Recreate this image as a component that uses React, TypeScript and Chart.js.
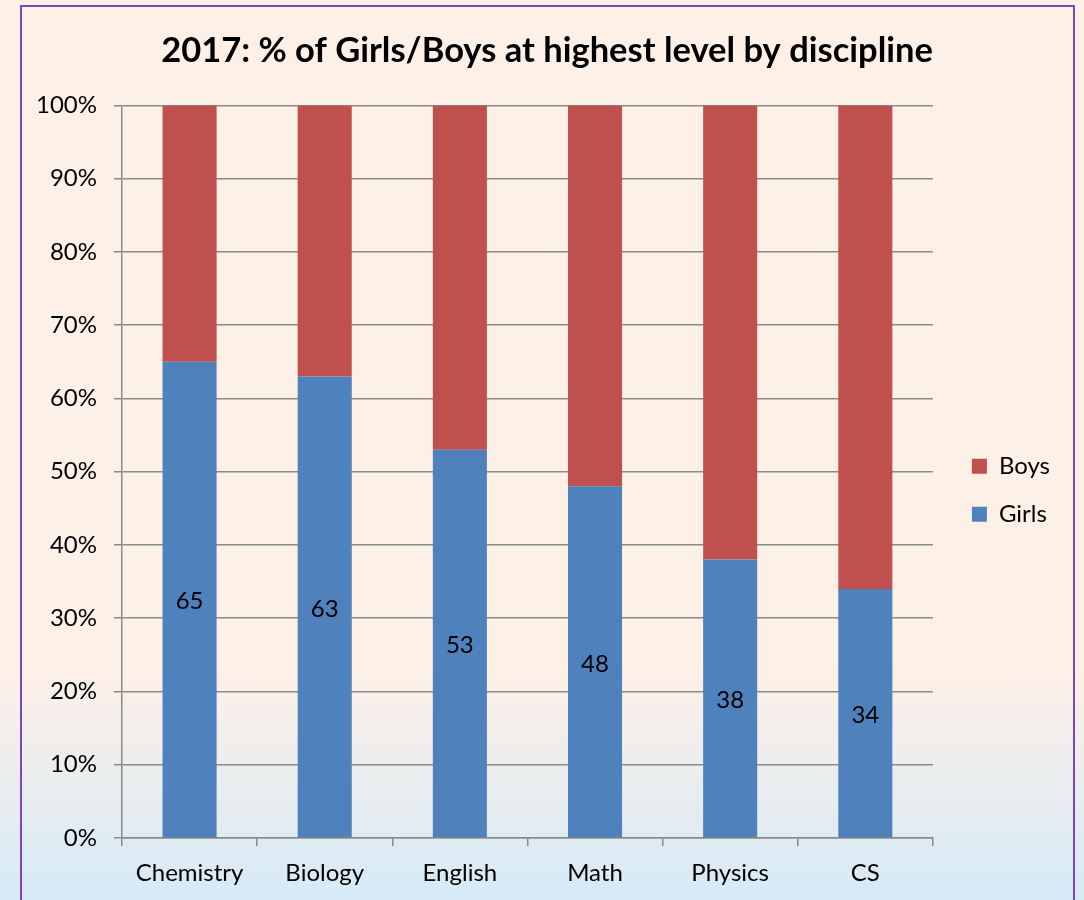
import React, { useEffect, useRef } from "react";
import { Chart, registerables } from "chart.js";

Chart.register(...registerables);

const titleText = "2017: % of Girls/Boys at highest level by discipline";
const categories = ["Chemistry", "Biology", "English", "Math", "Physics", "CS"];
const girls = [65, 63, 53, 48, 38, 34];
const boys = [35, 37, 47, 52, 62, 66];
const seriesNames = ["Girls", "Boys"];
const seriesColors = ["#4F81BD", "#C0504D"];

const FONT = "Lato";
const GRID = "#8a8a8a";

const girlsLabels = {
  id: "girlsLabels",
  afterDatasetsDraw(chart: any) {
    const meta = chart.getDatasetMeta(0);
    const ctx = chart.ctx;
    ctx.save();
    ctx.font = `24px ${FONT}`;
    ctx.fillStyle = "#000";
    ctx.textAlign = "center";
    ctx.textBaseline = "middle";
    meta.data.forEach((el: any, i: number) => {
      const p = el.getProps(["x", "y", "base"], true);
      ctx.fillText(String(girls[i]), p.x, (p.y + p.base) / 2 + 2);
    });
    ctx.restore();
  },
};

export default function App() {
  const ref = useRef<HTMLCanvasElement>(null);
  useEffect(() => {
    if (!ref.current) return;
    const chart = new Chart(ref.current, {
      type: "bar",
      data: {
        labels: categories,
        datasets: [
          { label: seriesNames[0], data: girls, backgroundColor: seriesColors[0], barPercentage: 0.4, categoryPercentage: 1 },
          { label: seriesNames[1], data: boys, backgroundColor: seriesColors[1], barPercentage: 0.4, categoryPercentage: 1 },
        ],
      },
      options: {
        animation: false,
        responsive: false,
        layout: { padding: { left: 34, right: 24, top: 0, bottom: 0 } },
        plugins: {
          title: {
            display: true,
            text: titleText,
            color: "#000",
            font: { family: FONT, size: 34.5, weight: "bold" },
            padding: { top: 30, bottom: 34 },
          },
          legend: {
            position: "right",
            fullSize: false,
            reverse: true,
            labels: {
              boxWidth: 15,
              boxHeight: 15,
              padding: 24,
              color: "#000",
              font: { family: FONT, size: 24 },
            },
            title: { display: true, text: "", font: { size: 1 }, padding: { top: 0, bottom: 36 } },
          },
          tooltip: { enabled: false },
        },
        scales: {
          x: {
            stacked: true,
            grid: { display: true, drawOnChartArea: false, drawTicks: true, tickLength: 8, color: GRID, lineWidth: 1.5, offset: true },
            border: { display: true, color: GRID, width: 1.5 },
            ticks: { color: "#000", font: { family: FONT, size: 24 }, padding: 13 },
            afterFit: (s: any) => { s.height = 62; },
          },
          y: {
            stacked: true,
            min: 0,
            max: 100,
            ticks: { stepSize: 10, color: "#000", font: { family: FONT, size: 24 }, padding: 17, callback: (v: any) => v + "%" },
            grid: { color: GRID, lineWidth: 1.5, tickLength: 8 },
            border: { display: true, color: GRID, width: 1.5 },
            afterFit: (s: any) => { s.width = 88; },
          },
          y2: {
            position: "right",
            display: true,
            grid: { display: false },
            ticks: { display: false },
            border: { display: false },
            afterFit: (s: any) => { s.width = 15; },
          },
        },
      },
      plugins: [girlsLabels],
    });
    return () => chart.destroy();
  }, []);

  return (
    <div
      style={{
        position: "fixed",
        left: 0,
        top: 0,
        width: 1084,
        height: 900,
        overflow: "hidden",
        background: "linear-gradient(180deg, #FDF0E6 0%, #FDF0E6 74%, #D6EAF7 100%)",
      }}
    >
      <div
        style={{
          position: "absolute",
          left: 20,
          top: 5,
          width: 1051,
          height: 1000,
          border: "2px solid #7F44C0",
        }}
      />
      <canvas ref={ref} width={1084} height={900} style={{ position: "absolute", left: 0, top: 0 }} />
    </div>
  );
}
